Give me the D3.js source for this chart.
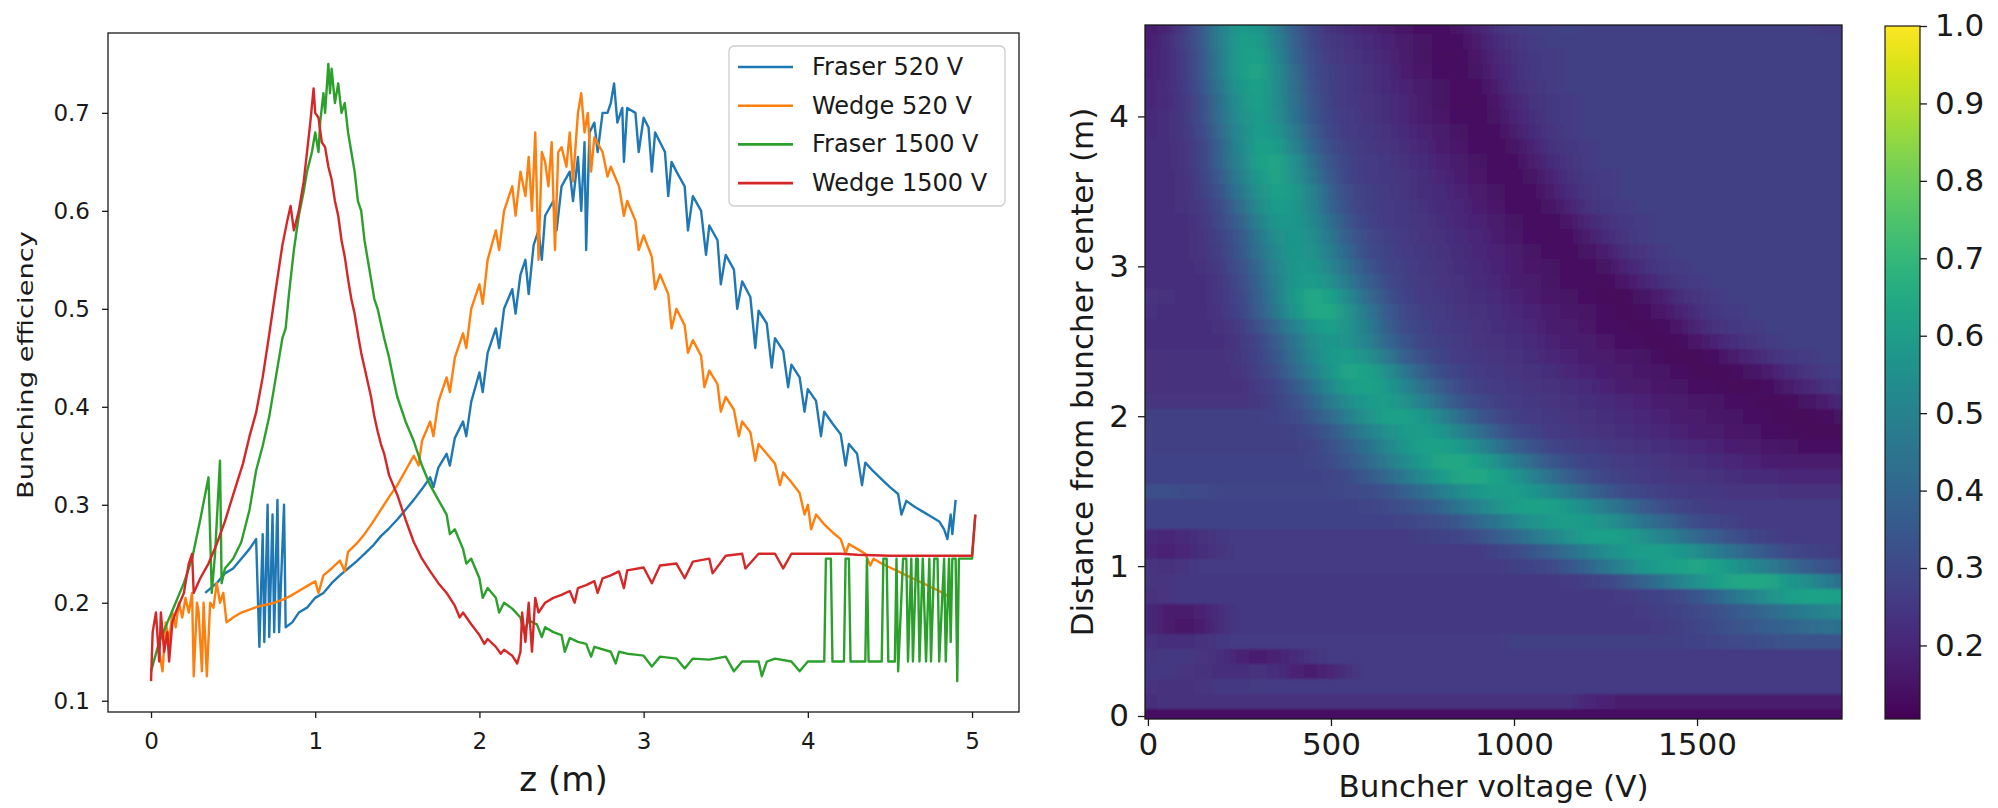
<!DOCTYPE html>
<html>
<head>
<meta charset="utf-8">
<script src="https://cdn.jsdelivr.net/npm/d3@7"></script>
<style>
  body { margin: 0; background: #fff; }
  svg { display: block; font-family: "DejaVu Sans", sans-serif; }
</style>
</head>
<body>
<svg id="fig" width="1998" height="808"></svg>
<script>
// ---- left panel: bunching efficiency along z ----
const seriesNames = ["Fraser 520 V", "Wedge 520 V", "Fraser 1500 V", "Wedge 1500 V"];
const seriesColors = ["#1f77b4", "#ff7f0e", "#2ca02c", "#d62728"];
const zTicks = [0, 1, 2, 3, 4, 5];
const effTicks = [0.1, 0.2, 0.3, 0.4, 0.5, 0.6, 0.7];

// [z (m), efficiency]
const fraser520 = [
  [0.33,0.21],[0.4,0.22],[0.45,0.23],[0.5,0.235],[0.55,0.245],[0.6,0.255],[0.64,0.265],[0.66,0.155],[0.68,0.27],[0.69,0.16],
  [0.71,0.3],[0.72,0.165],[0.74,0.29],[0.75,0.17],[0.77,0.305],[0.78,0.17],[0.81,0.3],[0.82,0.175],[0.86,0.18],[0.9,0.19],
  [0.95,0.195],[1.0,0.205],[1.05,0.21],[1.1,0.22],[1.15,0.228],[1.2,0.235],[1.25,0.242],[1.3,0.25],[1.35,0.258],[1.4,0.268],
  [1.45,0.276],[1.5,0.285],[1.55,0.295],[1.6,0.305],[1.65,0.316],[1.7,0.328],[1.72,0.318],[1.75,0.338],[1.8,0.352],[1.82,0.34],
  [1.85,0.368],[1.9,0.385],[1.92,0.37],[1.95,0.405],[2.0,0.435],[2.02,0.415],[2.05,0.455],[2.1,0.48],[2.12,0.46],[2.15,0.5],
  [2.2,0.52],[2.22,0.495],[2.25,0.535],[2.28,0.55],[2.3,0.515],[2.33,0.565],[2.36,0.58],[2.38,0.55],[2.4,0.595],[2.45,0.61],
  [2.47,0.58],[2.5,0.625],[2.55,0.64],[2.57,0.61],[2.6,0.655],[2.62,0.6],[2.64,0.67],[2.65,0.56],[2.67,0.68],[2.7,0.69],
  [2.72,0.66],[2.75,0.7],[2.78,0.7],[2.8,0.71],[2.82,0.73],[2.84,0.69],[2.87,0.705],[2.88,0.65],[2.9,0.705],[2.95,0.7],
  [2.97,0.66],[3.0,0.695],[3.03,0.685],[3.05,0.64],[3.07,0.68],[3.1,0.67],[3.13,0.66],[3.15,0.615],[3.17,0.65],[3.2,0.64],
  [3.25,0.625],[3.27,0.58],[3.3,0.615],[3.35,0.6],[3.38,0.555],[3.4,0.585],[3.45,0.57],[3.47,0.525],[3.5,0.555],[3.55,0.54],
  [3.57,0.5],[3.6,0.528],[3.65,0.512],[3.68,0.46],[3.7,0.498],[3.75,0.485],[3.78,0.44],[3.8,0.47],[3.85,0.457],[3.88,0.42],
  [3.9,0.443],[3.95,0.43],[3.98,0.395],[4.0,0.418],[4.05,0.406],[4.08,0.37],[4.1,0.395],[4.15,0.383],[4.2,0.372],[4.23,0.34],
  [4.25,0.362],[4.3,0.352],[4.33,0.32],[4.35,0.343],[4.4,0.334],[4.45,0.326],[4.5,0.318],[4.55,0.311],[4.57,0.29],[4.6,0.304],
  [4.65,0.298],[4.7,0.293],[4.75,0.288],[4.8,0.283],[4.83,0.275],[4.85,0.265],[4.87,0.29],[4.88,0.27],[4.9,0.305]
];
const wedge520 = [
  [0.05,0.15],[0.07,0.13],[0.09,0.18],[0.11,0.16],[0.13,0.19],[0.15,0.175],[0.17,0.2],[0.19,0.185],[0.21,0.205],[0.23,0.19],
  [0.25,0.21],[0.26,0.125],[0.28,0.2],[0.29,0.19],[0.31,0.13],[0.32,0.2],[0.34,0.125],[0.36,0.2],[0.38,0.195],[0.4,0.22],
  [0.42,0.2],[0.44,0.21],[0.46,0.18],[0.5,0.185],[0.55,0.19],[0.6,0.193],[0.65,0.196],[0.7,0.198],[0.75,0.2],[0.8,0.203],
  [0.85,0.207],[0.9,0.212],[0.95,0.217],[1.0,0.222],[1.02,0.21],[1.05,0.228],[1.1,0.235],[1.15,0.243],[1.18,0.232],[1.2,0.252],
  [1.25,0.26],[1.3,0.27],[1.35,0.282],[1.4,0.295],[1.45,0.308],[1.5,0.32],[1.55,0.335],[1.6,0.35],[1.63,0.34],[1.65,0.365],
  [1.7,0.385],[1.72,0.37],[1.75,0.405],[1.8,0.43],[1.82,0.415],[1.85,0.45],[1.9,0.475],[1.92,0.46],[1.95,0.5],[2.0,0.525],
  [2.02,0.505],[2.05,0.55],[2.1,0.58],[2.12,0.56],[2.15,0.6],[2.2,0.625],[2.22,0.595],[2.25,0.64],[2.28,0.615],[2.3,0.655],
  [2.32,0.6],[2.34,0.68],[2.36,0.55],[2.38,0.66],[2.4,0.65],[2.42,0.625],[2.44,0.67],[2.46,0.56],[2.48,0.66],[2.5,0.665],
  [2.53,0.645],[2.55,0.68],[2.57,0.63],[2.6,0.7],[2.62,0.72],[2.64,0.68],[2.66,0.7],[2.68,0.64],[2.7,0.675],[2.75,0.66],
  [2.78,0.635],[2.8,0.645],[2.85,0.625],[2.88,0.595],[2.9,0.61],[2.95,0.59],[2.97,0.56],[3.0,0.575],[3.05,0.553],[3.07,0.52],
  [3.1,0.535],[3.15,0.515],[3.17,0.48],[3.2,0.5],[3.25,0.483],[3.27,0.455],[3.3,0.468],[3.35,0.452],[3.37,0.42],[3.4,0.437],
  [3.45,0.423],[3.47,0.395],[3.5,0.41],[3.55,0.397],[3.58,0.37],[3.6,0.385],[3.65,0.374],[3.68,0.345],[3.7,0.362],[3.75,0.352],
  [3.8,0.342],[3.83,0.32],[3.85,0.333],[3.9,0.323],[3.95,0.312],[3.98,0.29],[4.0,0.3],[4.02,0.275],[4.05,0.29],[4.1,0.28],
  [4.15,0.272],[4.2,0.265],[4.23,0.25],[4.25,0.26],[4.3,0.255],[4.35,0.25],[4.38,0.238],[4.4,0.245],[4.45,0.24],[4.5,0.236],
  [4.55,0.232],[4.6,0.228],[4.65,0.224],[4.7,0.22],[4.75,0.216],[4.8,0.212],[4.85,0.207]
];
const fraser1500 = [
  [0.0,0.13],[0.05,0.16],[0.1,0.18],[0.15,0.2],[0.2,0.22],[0.25,0.245],[0.3,0.285],[0.35,0.328],[0.37,0.21],[0.39,0.25],
  [0.42,0.345],[0.43,0.22],[0.45,0.235],[0.5,0.245],[0.55,0.262],[0.6,0.295],[0.64,0.335],[0.68,0.36],[0.72,0.39],[0.76,0.43],
  [0.8,0.47],[0.82,0.48],[0.84,0.515],[0.87,0.56],[0.9,0.595],[0.93,0.62],[0.95,0.64],[0.98,0.66],[1.0,0.68],[1.02,0.66],
  [1.03,0.69],[1.05,0.72],[1.06,0.7],[1.08,0.75],[1.09,0.72],[1.1,0.745],[1.12,0.71],[1.14,0.73],[1.16,0.7],[1.18,0.71],
  [1.2,0.68],[1.22,0.66],[1.24,0.64],[1.26,0.61],[1.28,0.6],[1.3,0.57],[1.32,0.55],[1.34,0.53],[1.36,0.51],[1.38,0.5],
  [1.4,0.485],[1.42,0.47],[1.45,0.45],[1.48,0.425],[1.5,0.41],[1.55,0.385],[1.6,0.365],[1.65,0.34],[1.7,0.32],[1.75,0.305],
  [1.8,0.29],[1.82,0.27],[1.85,0.275],[1.9,0.255],[1.92,0.24],[1.95,0.245],[2.0,0.225],[2.02,0.205],[2.05,0.215],[2.1,0.205],
  [2.12,0.19],[2.15,0.2],[2.2,0.194],[2.25,0.185],[2.27,0.17],[2.3,0.182],[2.35,0.178],[2.38,0.165],[2.4,0.175],[2.45,0.17],
  [2.5,0.167],[2.52,0.15],[2.55,0.164],[2.6,0.16],[2.65,0.158],[2.68,0.145],[2.7,0.155],[2.8,0.15],[2.83,0.138],[2.85,0.15],
  [2.9,0.148],[2.95,0.147],[3.0,0.146],[3.05,0.135],[3.1,0.145],[3.2,0.143],[3.25,0.133],[3.3,0.143],[3.4,0.142],[3.5,0.145],
  [3.55,0.13],[3.6,0.14],[3.7,0.14],[3.72,0.125],[3.75,0.14],[3.8,0.143],[3.9,0.14],[3.95,0.13],[4.0,0.14],[4.1,0.14],
  [4.11,0.245],[4.14,0.245],[4.15,0.14],[4.22,0.14],[4.23,0.245],[4.25,0.245],[4.26,0.14],[4.35,0.14],[4.36,0.245],[4.37,0.14],
  [4.45,0.14],[4.46,0.245],[4.48,0.245],[4.49,0.14],[4.53,0.14],[4.54,0.245],[4.55,0.13],[4.58,0.245],[4.6,0.245],[4.61,0.14],
  [4.63,0.245],[4.64,0.14],[4.66,0.245],[4.67,0.245],[4.68,0.14],[4.7,0.245],[4.72,0.14],[4.74,0.245],[4.75,0.14],[4.77,0.245],
  [4.79,0.245],[4.8,0.14],[4.83,0.245],[4.84,0.14],[4.86,0.245],[4.87,0.16],[4.88,0.245],[4.9,0.245],[4.91,0.12],[4.92,0.245],
  [4.95,0.245],[5.0,0.245],[5.02,0.29]
];
const wedge1500 = [
  [0.0,0.12],[0.01,0.17],[0.03,0.19],[0.05,0.14],[0.06,0.19],[0.08,0.15],[0.1,0.17],[0.11,0.14],[0.13,0.18],[0.15,0.19],
  [0.2,0.21],[0.23,0.24],[0.25,0.25],[0.26,0.21],[0.3,0.225],[0.35,0.24],[0.4,0.26],[0.45,0.283],[0.5,0.31],[0.56,0.342],
  [0.6,0.37],[0.64,0.394],[0.68,0.43],[0.72,0.474],[0.76,0.52],[0.8,0.565],[0.83,0.59],[0.85,0.605],[0.87,0.58],[0.9,0.6],
  [0.93,0.63],[0.95,0.66],[0.97,0.69],[0.99,0.725],[1.0,0.7],[1.02,0.695],[1.04,0.67],[1.06,0.665],[1.08,0.645],[1.1,0.632],
  [1.12,0.61],[1.14,0.595],[1.16,0.57],[1.18,0.553],[1.2,0.53],[1.22,0.51],[1.24,0.495],[1.26,0.474],[1.28,0.455],[1.3,0.44],
  [1.32,0.425],[1.34,0.41],[1.36,0.39],[1.38,0.375],[1.4,0.362],[1.42,0.352],[1.45,0.33],[1.5,0.31],[1.55,0.285],[1.6,0.262],
  [1.65,0.245],[1.7,0.232],[1.75,0.22],[1.8,0.21],[1.85,0.197],[1.88,0.185],[1.9,0.19],[1.95,0.178],[2.0,0.167],[2.03,0.158],
  [2.05,0.163],[2.1,0.155],[2.13,0.148],[2.15,0.152],[2.2,0.146],[2.23,0.138],[2.25,0.15],[2.26,0.19],[2.28,0.16],[2.3,0.2],
  [2.32,0.15],[2.34,0.205],[2.36,0.19],[2.4,0.2],[2.45,0.205],[2.5,0.208],[2.55,0.212],[2.58,0.2],[2.6,0.215],[2.65,0.218],
  [2.7,0.222],[2.72,0.21],[2.75,0.225],[2.8,0.228],[2.85,0.232],[2.88,0.215],[2.9,0.233],[3.0,0.236],[3.05,0.22],[3.1,0.238],
  [3.2,0.24],[3.25,0.225],[3.3,0.242],[3.4,0.245],[3.42,0.23],[3.5,0.248],[3.6,0.25],[3.62,0.235],[3.7,0.25],[3.8,0.25],
  [3.85,0.235],[3.9,0.25],[4.0,0.25],[4.1,0.25],[4.2,0.25],[4.3,0.249],[4.5,0.248],[4.7,0.248],[4.9,0.248],[5.0,0.248],
  [5.02,0.29]
];

// ---- right panel: efficiency map (values in %) ----
const voltages = [0,50,100,150,200,250,300,350,400,450,500,550,600,650,700,750,800,850,900,950,
  1000,1050,1100,1150,1200,1250,1300,1350,1400,1450,1500,1550,1600,1650,1700,1750,1800,1850,1900];
const distances = [4.6,4.5,4.4,4.3,4.2,4.1,4.0,3.9,3.8,3.7,3.6,3.5,3.4,3.3,3.2,3.1,3.0,2.9,2.8,2.7,2.6,2.5,2.4,2.3,
  2.2,2.1,2.0,1.9,1.8,1.7,1.6,1.5,1.4,1.3,1.2,1.1,1.0,0.9,0.8,0.7,0.6,0.5,0.4,0.3,0.2,0.1,0.0];
const efficiencyMap = [
  [17,19,26,36,49,59,58,48,36,28,23,21,19,17,15,14,14,15,19,23,26,27,27,28,27,27,27,27,27,27,27,27,27,27,27,27,27,26,26],
  [18,21,27,36,49,60,60,50,38,29,25,23,21,19,17,15,14,14,17,21,24,26,27,27,27,27,27,27,27,27,27,27,27,27,27,27,27,27,27],
  [19,21,26,35,48,60,62,52,39,30,26,24,22,20,17,15,13,13,16,20,23,25,26,27,27,27,27,27,27,27,27,27,27,27,27,27,27,27,27],
  [19,21,26,35,48,60,63,54,41,31,27,25,23,21,18,16,14,13,15,19,22,25,26,27,27,27,27,27,27,27,27,27,27,27,27,27,27,27,27],
  [20,21,26,34,46,58,62,54,42,32,27,25,23,21,19,17,15,13,14,18,22,24,26,27,27,27,27,27,27,27,27,27,27,27,27,27,27,27,27],
  [20,21,25,32,44,56,61,54,43,33,27,25,24,22,20,17,15,13,13,16,20,23,25,26,27,27,27,27,27,27,27,27,27,27,27,27,27,27,27],
  [21,22,25,32,43,55,60,55,44,34,28,26,24,22,20,18,16,14,13,15,19,22,25,26,27,27,27,27,27,27,27,27,27,27,27,27,27,27,27],
  [21,22,25,30,41,53,60,57,47,36,29,26,25,23,21,19,17,15,13,14,17,21,24,26,27,27,27,27,27,27,27,27,27,27,27,27,27,27,27],
  [22,22,24,29,39,52,61,60,50,39,31,27,25,24,22,20,18,16,14,13,15,19,23,25,26,27,27,27,27,27,27,27,27,27,27,27,27,27,27],
  [22,22,24,29,39,51,62,63,55,42,33,28,26,25,23,21,19,17,15,13,14,17,21,24,26,27,27,27,27,27,27,27,27,27,27,27,27,27,27],
  [22,22,23,28,36,48,59,63,56,45,35,28,26,25,24,22,20,18,16,14,13,15,19,23,25,26,27,27,27,27,27,27,27,27,27,27,27,27,27],
  [22,22,23,27,34,45,56,62,59,49,38,30,27,26,24,22,21,19,17,15,13,14,17,21,24,26,27,27,27,27,27,27,27,27,27,27,27,27,27],
  [22,22,23,26,31,41,53,60,58,50,39,31,27,26,25,23,21,20,18,16,14,13,15,19,23,25,26,27,27,27,27,27,27,27,27,27,27,27,27],
  [22,22,22,25,30,38,49,58,58,52,42,33,28,26,25,24,22,20,19,17,15,13,13,16,20,23,25,26,27,27,27,27,27,27,27,27,27,27,27],
  [22,22,22,24,28,35,45,55,58,54,45,36,30,27,26,24,23,21,20,18,16,14,13,14,17,21,24,26,27,27,27,27,27,27,27,27,27,27,27],
  [22,22,22,24,27,34,43,53,58,56,48,39,31,28,26,25,23,22,20,19,17,15,14,13,15,18,22,24,26,27,27,27,27,27,27,27,27,27,27],
  [22,22,22,23,26,32,40,51,58,58,51,42,34,29,27,25,24,22,21,19,18,16,15,13,13,15,19,22,25,26,27,27,27,27,27,27,27,27,27],
  [22,22,22,22,25,30,39,49,58,60,55,46,37,31,27,26,24,23,21,20,18,17,15,14,13,13,16,19,22,25,26,27,27,27,27,27,27,27,27],
  [24,23,22,22,25,29,37,48,59,64,61,52,41,33,28,26,25,23,22,21,19,18,16,15,14,12,12,15,18,22,24,26,27,27,27,27,27,27,27],
  [23,22,22,22,24,28,36,46,57,64,64,56,46,36,30,27,26,24,23,22,20,19,18,16,15,14,12,13,16,19,22,25,26,27,27,27,27,27,27],
  [22,22,22,22,23,26,32,40,50,58,61,56,48,38,31,28,26,25,24,22,21,20,18,17,16,14,13,12,13,16,20,23,25,26,27,27,27,27,27],
  [22,22,22,22,22,25,29,36,45,54,58,56,50,40,34,29,27,26,24,23,22,21,19,18,17,16,14,13,12,13,16,19,22,24,26,27,27,27,27],
  [23,23,23,23,23,25,28,34,43,52,59,60,55,47,38,32,28,26,25,24,23,22,20,19,18,17,16,15,13,12,12,14,17,20,23,25,26,27,27],
  [23,23,23,23,23,24,27,32,40,49,58,63,62,55,46,37,31,28,26,25,24,23,22,20,19,18,17,16,15,14,12,12,13,15,18,21,24,26,27],
  [23,23,23,23,23,23,26,29,35,44,53,60,62,59,52,43,36,30,27,26,25,24,23,22,21,19,18,17,16,15,14,13,12,12,14,17,20,23,25],
  [24,24,24,24,24,24,25,28,32,39,47,54,59,60,56,49,41,34,30,27,26,25,24,23,22,21,20,19,18,17,16,15,14,13,12,13,15,18,21],
  [27,27,27,27,27,27,27,28,30,35,41,49,56,61,62,58,51,42,35,30,27,26,25,24,23,22,21,20,19,18,17,16,15,14,13,12,12,13,15],
  [27,27,27,27,27,27,27,27,28,31,35,42,49,55,59,60,57,50,43,36,31,28,26,25,24,23,22,21,20,19,18,17,16,15,14,13,12,12,12],
  [27,27,27,27,27,27,27,27,27,29,32,37,44,51,57,61,62,59,53,45,38,33,29,27,26,25,24,23,22,21,20,19,18,17,16,15,14,14,14],
  [28,28,28,28,28,28,28,28,28,29,31,35,40,47,53,59,63,64,61,55,48,41,35,31,28,27,26,25,24,23,22,21,20,19,18,18,17,17,17],
  [28,28,28,28,28,28,28,28,28,28,29,31,35,40,46,53,59,63,64,62,57,50,43,37,32,29,27,26,25,24,24,23,22,21,21,20,20,20,20],
  [32,32,31,30,29,29,29,29,29,29,29,30,31,33,37,42,48,53,58,60,60,57,52,46,40,35,31,29,27,26,25,25,24,24,24,23,23,23,23],
  [28,28,28,28,28,28,28,28,28,28,28,28,29,30,32,35,39,45,50,56,60,62,61,58,53,47,42,36,32,29,27,26,26,26,26,26,26,26,26],
  [28,28,28,28,28,28,28,28,28,28,28,28,28,28,29,30,32,35,40,45,51,56,59,60,59,56,51,45,40,35,31,29,27,26,26,26,26,26,26],
  [21,20,21,23,25,26,26,26,26,26,26,26,26,26,26,27,28,29,32,36,40,46,51,56,60,61,60,56,51,46,40,36,32,29,27,26,26,26,26],
  [20,19,20,22,24,26,26,26,26,26,26,26,26,26,26,26,26,26,26,28,30,34,38,43,48,54,58,60,60,58,54,48,43,38,34,30,28,27,26],
  [24,23,24,26,26,26,26,26,26,26,26,26,26,26,26,26,26,26,26,26,27,28,30,34,39,45,51,57,60,62,63,61,57,52,47,41,36,33,30],
  [24,24,25,25,25,25,25,25,25,25,25,25,25,25,25,25,25,25,25,25,25,25,25,26,27,29,33,38,44,50,55,60,63,64,63,58,54,48,42],
  [23,24,25,25,25,25,25,25,25,25,25,25,25,25,25,25,25,25,25,25,25,25,25,25,25,25,26,27,28,30,34,39,45,50,56,60,62,62,60],
  [21,18,17,19,22,25,25,25,25,25,25,25,25,25,25,25,25,25,25,25,25,25,25,25,25,25,25,26,27,28,30,32,35,38,41,45,48,51,53],
  [21,17,16,18,22,25,25,25,25,25,25,25,25,25,25,25,25,25,25,25,25,25,25,25,25,25,25,25,26,27,29,31,33,35,37,39,41,43,44],
  [23,22,22,23,25,26,26,26,26,26,26,26,26,26,26,26,26,26,26,26,27,27,27,27,27,27,27,27,27,27,28,29,30,31,32,33,33,33,33],
  [24,25,25,24,22,19,18,19,21,24,26,26,26,26,26,26,26,26,26,26,26,26,26,26,26,26,26,26,26,26,26,26,26,26,26,26,26,26,26],
  [25,25,24,23,22,22,23,22,19,18,20,23,26,26,26,26,26,26,26,26,26,26,26,26,26,26,26,26,26,26,26,26,26,26,26,26,26,26,26],
  [24,23,23,24,25,25,26,26,26,26,26,26,26,26,26,26,26,26,26,26,26,26,26,26,26,26,26,26,26,26,26,26,26,26,26,26,26,26,26],
  [22,23,23,23,23,23,23,23,23,23,23,23,23,23,23,23,23,23,23,23,23,23,23,23,20,19,17,17,17,17,17,17,17,17,17,17,17,17,17],
  [14,14,14,14,14,14,14,14,14,14,14,14,14,14,14,14,14,14,14,14,14,14,14,14,14,14,14,14,14,14,14,14,14,14,14,14,14,14,14]
];
const voltageTicks = [0, 500, 1000, 1500];
const distanceTicks = [0, 1, 2, 3, 4];
const colorTicks = [0.2, 0.3, 0.4, 0.5, 0.6, 0.7, 0.8, 0.9, 1.0];

const ink = "#1a1a1a";
const svg = d3.select("#fig");

function styleAxis(g, size) {
  g.select(".domain").remove();
  g.selectAll(".tick line").attr("stroke", ink).attr("stroke-width", 1.3);
  g.selectAll(".tick text").attr("fill", ink).attr("font-size", size)
    .attr("font-family", "DejaVu Sans, sans-serif");
}

// ===== left panel =====
const L = { x0: 108, x1: 1019, y0: 33, y1: 712 };
const zScale = d3.scaleLinear().domain([-0.262, 5.286]).range([L.x0, L.x1]);
const effScale = d3.scaleLinear().domain([0.0885, 0.7815]).range([L.y1, L.y0]);

const seriesData = [fraser520, wedge520, fraser1500, wedge1500];
const line = d3.line().x((d) => zScale(d[0])).y((d) => effScale(d[1]));

svg.append("g")
  .selectAll("path")
  .data(seriesData)
  .join("path")
  .attr("d", line)
  .attr("fill", "none")
  .attr("stroke", (d, i) => seriesColors[i])
  .attr("stroke-width", 2.4)
  .attr("stroke-linejoin", "round");

svg.append("rect")
  .attr("x", L.x0).attr("y", L.y0)
  .attr("width", L.x1 - L.x0).attr("height", L.y1 - L.y0)
  .attr("fill", "none").attr("stroke", ink).attr("stroke-width", 1.3);

svg.append("g")
  .attr("transform", `translate(0,${L.y1})`)
  .call(d3.axisBottom(zScale).tickValues(zTicks).tickSize(6).tickPadding(15).tickFormat(d3.format("d")))
  .call(styleAxis, 23);

svg.append("g")
  .attr("transform", `translate(${L.x0},0)`)
  .call(d3.axisLeft(effScale).tickValues(effTicks).tickSize(6).tickPadding(12).tickFormat(d3.format(".1f")))
  .call(styleAxis, 23);

svg.append("text")
  .attr("x", (L.x0 + L.x1) / 2).attr("y", 791)
  .attr("text-anchor", "middle").attr("font-size", 34).attr("fill", ink)
  .text("z (m)");

svg.append("text")
  .attr("transform", "translate(25,365) rotate(-90)")
  .attr("text-anchor", "middle").attr("dominant-baseline", "central")
  .attr("font-size", 22).attr("fill", ink)
  .attr("textLength", 268).attr("lengthAdjust", "spacingAndGlyphs")
  .text("Bunching efficiency");

// legend
const legend = svg.append("g");
legend.append("rect")
  .attr("x", 729).attr("y", 46).attr("width", 276).attr("height", 160).attr("rx", 5)
  .attr("fill", "#fff").attr("fill-opacity", 0.8).attr("stroke", "#cccccc").attr("stroke-width", 1.3);
const rows = legend.selectAll("g.row").data(seriesNames).join("g")
  .attr("transform", (d, i) => `translate(0,${67 + i * 38.7})`);
rows.append("line").attr("x1", 738).attr("x2", 793)
  .attr("stroke", (d, i) => seriesColors[i]).attr("stroke-width", 2.6);
rows.append("text").attr("x", 812).attr("dominant-baseline", "central")
  .attr("font-size", 24).attr("fill", ink).text((d) => d);

// ===== right panel =====
const R = { x0: 1145, x1: 1842, y0: 25, y1: 719 };
const vScale = d3.scaleLinear().domain([-8, 1896]).range([R.x0, R.x1]);
const dScale = d3.scaleLinear().domain([-0.02, 4.61]).range([R.y1, R.y0]);
const cMin = 0.105, cMax = 1.0;
const color = (v) => d3.interpolateViridis((v - cMin) / (cMax - cMin));

const defs = svg.append("defs");
defs.append("clipPath").attr("id", "mapClip")
  .append("rect").attr("x", R.x0).attr("y", R.y0)
  .attr("width", R.x1 - R.x0).attr("height", R.y1 - R.y0);
const smooth = defs.append("filter").attr("id", "smooth")
  .attr("x", "-0.05").attr("y", "-0.05").attr("width", "1.1").attr("height", "1.1");
smooth.append("feGaussianBlur").attr("stdDeviation", "7 1.2");
smooth.append("feComponentTransfer").append("feFuncA").attr("type", "linear").attr("slope", 60);

const cells = [];
efficiencyMap.forEach((row, i) => row.forEach((v, j) => {
  cells.push({ v: voltages[j], d: distances[i], e: v / 100 });
}));

svg.append("g").attr("clip-path", "url(#mapClip)")
  .append("g").attr("filter", "url(#smooth)")
  .selectAll("rect")
  .data(cells)
  .join("rect")
  .attr("x", (c) => vScale(c.v - 25))
  .attr("width", (c) => vScale(c.v + 25) - vScale(c.v - 25) + 0.5)
  .attr("y", (c) => dScale(c.d + 0.05))
  .attr("height", (c) => dScale(c.d - 0.05) - dScale(c.d + 0.05) + 0.5)
  .attr("fill", (c) => color(c.e))
  .attr("shape-rendering", "crispEdges");

svg.append("rect")
  .attr("x", R.x0).attr("y", R.y0)
  .attr("width", R.x1 - R.x0).attr("height", R.y1 - R.y0)
  .attr("fill", "none").attr("stroke", ink).attr("stroke-width", 1.3);

svg.append("g")
  .attr("transform", `translate(0,${R.y1})`)
  .call(d3.axisBottom(vScale).tickValues(voltageTicks).tickSize(7).tickPadding(7).tickFormat(d3.format("d")))
  .call(styleAxis, 31);

svg.append("g")
  .attr("transform", `translate(${R.x0},0)`)
  .call(d3.axisLeft(dScale).tickValues(distanceTicks).tickSize(7).tickPadding(9).tickFormat(d3.format("d")))
  .call(styleAxis, 31);

svg.append("text")
  .attr("x", (R.x0 + R.x1) / 2).attr("y", 797)
  .attr("text-anchor", "middle").attr("font-size", 31).attr("fill", ink)
  .text("Buncher voltage (V)");

svg.append("text")
  .attr("transform", `translate(1082,${(R.y0 + R.y1) / 2}) rotate(-90)`)
  .attr("text-anchor", "middle").attr("dominant-baseline", "central")
  .attr("font-size", 31).attr("fill", ink)
  .text("Distance from buncher center (m)");

// colorbar
const CB = { x0: 1885, x1: 1920, y0: 26, y1: 719 };
const cScale = d3.scaleLinear().domain([cMin, cMax]).range([CB.y1, CB.y0]);
const grad = defs.append("linearGradient").attr("id", "viridisBar")
  .attr("x1", 0).attr("y1", 1).attr("x2", 0).attr("y2", 0);
grad.selectAll("stop").data(d3.range(0, 1.0001, 0.02)).join("stop")
  .attr("offset", (t) => t).attr("stop-color", (t) => d3.interpolateViridis(t));
svg.append("rect")
  .attr("x", CB.x0).attr("y", CB.y0)
  .attr("width", CB.x1 - CB.x0).attr("height", CB.y1 - CB.y0)
  .attr("fill", "url(#viridisBar)").attr("stroke", ink).attr("stroke-width", 1.2);
svg.append("g")
  .attr("transform", `translate(${CB.x1},0)`)
  .call(d3.axisRight(cScale).tickValues(colorTicks).tickSize(7).tickPadding(8).tickFormat(d3.format(".1f")))
  .call(styleAxis, 31);
</script>
</body>
</html>
